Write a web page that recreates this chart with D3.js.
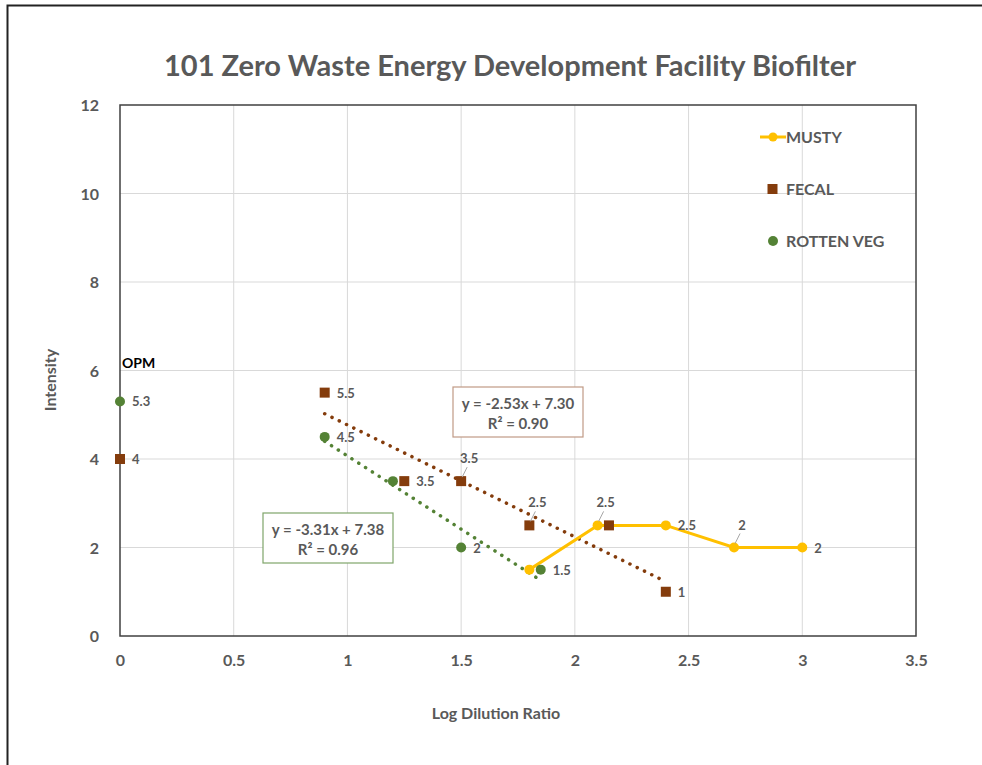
<!DOCTYPE html>
<html>
<head>
<meta charset="utf-8">
<script src="https://cdn.jsdelivr.net/npm/d3@7"></script>
<style>
  body { margin: 0; background: #fff; }
  text { font-family: Lato, "Open Sans", sans-serif; }
</style>
</head>
<body>
<div id="graph"></div>
<script>
var svgWidth = 982;
var svgHeight = 765;

// text
var titleText = "101 Zero Waste Energy Development Facility Biofilter";
var yAxisTitleText = "Intensity";
var xAxisTitleText = "Log Dilution Ratio";

// data
var xTicks = [0, 0.5, 1, 1.5, 2, 2.5, 3, 3.5];
var yTicks = [0, 2, 4, 6, 8, 10, 12];

var mustyX = [1.8, 2.1, 2.4, 2.7, 3.0];
var mustyY = [1.5, 2.5, 2.5, 2, 2];
var mustyLabels = ["", "2.5", "2.5", "2", "2"];

var fecalX = [0, 0.9, 1.25, 1.5, 1.8, 2.15, 2.4];
var fecalY = [4, 5.5, 3.5, 3.5, 2.5, 2.5, 1];
var fecalLabels = ["4", "5.5", "3.5", "3.5", "2.5", "", "1"];

var vegX = [0, 0.9, 1.2, 1.5, 1.85];
var vegY = [5.3, 4.5, 3.5, 2, 1.5];
var vegLabels = ["5.3", "4.5", "", "2", "1.5"];

// trendlines: slope, intercept, x range
var fecalFit = { m: -2.53, b: 7.30, x0: 0.9, x1: 2.4, eq: "y = -2.53x + 7.30", r2: "R² = 0.90" };
var vegFit = { m: -3.31, b: 7.38, x0: 0.9, x1: 1.85, eq: "y = -3.31x + 7.38", r2: "R² = 0.96" };

var mustyColor = "#FFC000";
var fecalColor = "#843C0C";
var vegColor = "#548235";
var textColor = "#595959";

var plotLeft = 120, plotRight = 916, plotTop = 105, plotBottom = 636;

var x = d3.scaleLinear().domain([0, 3.5]).range([plotLeft, plotRight]);
var y = d3.scaleLinear().domain([0, 12]).range([plotBottom, plotTop]);

var svg = d3.select("#graph")
	.append("svg")
	.attr("width", svgWidth)
	.attr("height", svgHeight);

// outer frame
svg.append("rect")
	.attr("x", 7.5).attr("y", 5.5)
	.attr("width", 1000).attr("height", 800)
	.attr("fill", "none")
	.attr("stroke", "#222")
	.attr("stroke-width", 2);

// title
svg.append("text")
	.attr("x", 510)
	.attr("y", 76)
	.attr("text-anchor", "middle")
	.attr("font-size", 29)
	.attr("font-weight", "bold")
	.attr("fill", textColor)
	.text(titleText);

// gridlines
svg.append("g")
	.selectAll("line.v")
	.data(xTicks.slice(1, -1))
	.enter().append("line")
	.attr("x1", function(d) { return x(d); })
	.attr("x2", function(d) { return x(d); })
	.attr("y1", plotTop).attr("y2", plotBottom)
	.attr("stroke", "#D9D9D9").attr("stroke-width", 1);

svg.append("g")
	.selectAll("line.h")
	.data(yTicks.slice(1, -1))
	.enter().append("line")
	.attr("x1", plotLeft).attr("x2", plotRight)
	.attr("y1", function(d) { return y(d); })
	.attr("y2", function(d) { return y(d); })
	.attr("stroke", "#D9D9D9").attr("stroke-width", 1);

// plot border
svg.append("rect")
	.attr("x", plotLeft).attr("y", plotTop)
	.attr("width", plotRight - plotLeft)
	.attr("height", plotBottom - plotTop)
	.attr("fill", "none")
	.attr("stroke", "#404040")
	.attr("stroke-width", 1.5);

// axes (labels only)
var xAxis = svg.append("g")
	.attr("transform", "translate(0," + (plotBottom + 16) + ")")
	.call(d3.axisBottom(x).tickValues(xTicks).tickSize(0).tickFormat(d3.format("")));
var yAxis = svg.append("g")
	.attr("transform", "translate(" + (plotLeft - 18) + ",0)")
	.call(d3.axisLeft(y).tickValues(yTicks).tickSize(0));
[xAxis, yAxis].forEach(function(a) {
	a.select(".domain").remove();
	a.selectAll("text")
		.attr("font-family", "Lato, sans-serif")
		.attr("font-size", 16)
		.attr("font-weight", "bold")
		.attr("fill", textColor);
});
yAxis.selectAll("text").attr("dy", "0.35em");

// axis titles
svg.append("text")
	.attr("x", 496).attr("y", 719)
	.attr("text-anchor", "middle")
	.attr("font-size", 16).attr("font-weight", "bold")
	.attr("fill", textColor)
	.text(xAxisTitleText);

svg.append("text")
	.attr("transform", "translate(56,380) rotate(-90)")
	.attr("text-anchor", "middle")
	.attr("font-size", 16).attr("font-weight", "bold")
	.attr("fill", textColor)
	.text(yAxisTitleText);

// trendlines
function drawFit(fit, color) {
	svg.append("line")
		.attr("x1", x(fit.x0)).attr("y1", y(fit.m * fit.x0 + fit.b))
		.attr("x2", x(fit.x1)).attr("y2", y(fit.m * fit.x1 + fit.b))
		.attr("stroke", color)
		.attr("stroke-width", 3.5)
		.attr("stroke-linecap", "round")
		.attr("stroke-dasharray", "0.1,8");
}
drawFit(fecalFit, fecalColor);
drawFit(vegFit, vegColor);

var mustyData = mustyX.map(function(d, i) { return { x: d, y: mustyY[i], label: mustyLabels[i] }; });
var fecalData = fecalX.map(function(d, i) { return { x: d, y: fecalY[i], label: fecalLabels[i] }; });
var vegData = vegX.map(function(d, i) { return { x: d, y: vegY[i], label: vegLabels[i] }; });

// musty line
svg.append("path")
	.datum(mustyData)
	.attr("fill", "none")
	.attr("stroke", mustyColor)
	.attr("stroke-width", 3)
	.attr("d", d3.line().x(function(d) { return x(d.x); }).y(function(d) { return y(d.y); }));

svg.append("g").selectAll("circle")
	.data(mustyData)
	.enter().append("circle")
	.attr("cx", function(d) { return x(d.x); })
	.attr("cy", function(d) { return y(d.y); })
	.attr("r", 5)
	.attr("fill", mustyColor);

// rotten veg circles
svg.append("g").selectAll("circle")
	.data(vegData)
	.enter().append("circle")
	.attr("cx", function(d) { return x(d.x); })
	.attr("cy", function(d) { return y(d.y); })
	.attr("r", 5)
	.attr("fill", vegColor);

// fecal squares
svg.append("g").selectAll("rect")
	.data(fecalData)
	.enter().append("rect")
	.attr("x", function(d) { return x(d.x) - 5; })
	.attr("y", function(d) { return y(d.y) - 5; })
	.attr("width", 10).attr("height", 10)
	.attr("fill", fecalColor);

// data labels: right of the point, or above with a leader line
function label(d, above) {
	if (!d.label) return;
	var px = x(d.x), py = y(d.y);
	if (above) {
		svg.append("line")
			.attr("x1", px + 1).attr("y1", py - 4)
			.attr("x2", px + 6).attr("y2", py - 14)
			.attr("stroke", "#A6A6A6").attr("stroke-width", 1);
		svg.append("text")
			.attr("x", px + 8).attr("y", py - 18)
			.attr("text-anchor", "middle")
			.attr("font-size", 13).attr("font-weight", "bold")
			.attr("fill", textColor)
			.text(d.label);
	} else {
		svg.append("text")
			.attr("x", px + 12).attr("y", py + 5)
			.attr("font-size", 13).attr("font-weight", "bold")
			.attr("fill", textColor)
			.text(d.label);
	}
}
mustyData.forEach(function(d, i) { label(d, i === 1 || i === 3); });
fecalData.forEach(function(d, i) { label(d, i === 3 || i === 4); });
vegData.forEach(function(d) { label(d, false); });

// OPM note
svg.append("text")
	.attr("x", 122).attr("y", 368)
	.attr("font-size", 14).attr("font-weight", "bold")
	.attr("fill", "#000")
	.text("OPM");

// trendline equation boxes
function eqBox(fit, color, bx, by) {
	var g = svg.append("g").attr("transform", "translate(" + bx + "," + by + ")");
	g.append("rect")
		.attr("width", 130).attr("height", 50)
		.attr("fill", "#fff")
		.attr("stroke", color)
		.attr("stroke-width", 1.2);
	g.append("text")
		.attr("x", 65).attr("y", 22)
		.attr("text-anchor", "middle")
		.attr("font-size", 15).attr("font-weight", "bold")
		.attr("fill", textColor)
		.text(fit.eq);
	g.append("text")
		.attr("x", 65).attr("y", 42)
		.attr("text-anchor", "middle")
		.attr("font-size", 15).attr("font-weight", "bold")
		.attr("fill", textColor)
		.text(fit.r2);
}
eqBox(fecalFit, "#C09A85", 453, 387);
eqBox(vegFit, "#7FA56A", 263, 513);

// legend
var legend = svg.append("g").attr("transform", "translate(760,137)");
legend.append("line")
	.attr("x1", 0).attr("x2", 26).attr("y1", 0).attr("y2", 0)
	.attr("stroke", mustyColor).attr("stroke-width", 3);
legend.append("circle").attr("cx", 13).attr("cy", 0).attr("r", 4.5).attr("fill", mustyColor);
legend.append("rect").attr("x", 7.5).attr("y", 47).attr("width", 10).attr("height", 10).attr("fill", fecalColor);
legend.append("circle").attr("cx", 13).attr("cy", 104).attr("r", 5).attr("fill", vegColor);
var legendNames = ["MUSTY", "FECAL", "ROTTEN VEG"];
legend.selectAll("text.l")
	.data(legendNames)
	.enter().append("text")
	.attr("x", 26)
	.attr("y", function(d, i) { return i * 52 + 6; })
	.attr("font-size", 16).attr("font-weight", "bold")
	.attr("fill", textColor)
	.text(function(d) { return d; });
</script>
</body>
</html>
